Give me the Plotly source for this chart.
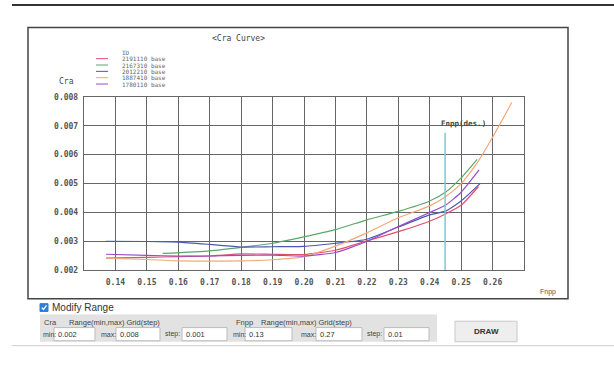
import plotly.graph_objects as go

W, H = 614, 377

# ---------------- data ----------------
series_names = ["2191110 base", "2167310 base", "2012210 base", "1887410 base", "1780110 base"]
series_colors = ["#e2506a", "#5aa86a", "#4a58b0", "#f2a878", "#9a4cc8"]

fnpp_2191110 = [0.137, 0.15, 0.16, 0.17, 0.18, 0.19, 0.20, 0.21, 0.22, 0.23, 0.24, 0.245, 0.25, 0.2555]
cra_2191110 = [0.00243, 0.00245, 0.00248, 0.0025, 0.00257, 0.00256, 0.00255, 0.0027, 0.00302, 0.00334, 0.0037, 0.00395, 0.00425, 0.0049]

fnpp_2167310 = [0.155, 0.17, 0.18, 0.19, 0.20, 0.21, 0.22, 0.23, 0.24, 0.245, 0.25, 0.2551]
cra_2167310 = [0.00259, 0.00268, 0.0028, 0.00294, 0.00316, 0.00341, 0.00375, 0.00404, 0.0044, 0.0047, 0.0052, 0.00584]

fnpp_2012210 = [0.137, 0.15, 0.16, 0.17, 0.18, 0.19, 0.20, 0.21, 0.22, 0.23, 0.24, 0.245, 0.25, 0.256]
cra_2012210 = [0.00301, 0.003, 0.00298, 0.0029, 0.00281, 0.00282, 0.00283, 0.00294, 0.00308, 0.0035, 0.00392, 0.00405, 0.0044, 0.0050]

fnpp_1887410 = [0.137, 0.15, 0.16, 0.17, 0.18, 0.19, 0.20, 0.21, 0.22, 0.23, 0.24, 0.245, 0.25, 0.255, 0.26, 0.2661]
cra_1887410 = [0.00243, 0.00238, 0.00233, 0.00232, 0.00233, 0.00237, 0.00248, 0.00284, 0.0033, 0.00382, 0.00423, 0.00455, 0.005, 0.0057, 0.0066, 0.0078]

fnpp_1780110 = [0.137, 0.15, 0.16, 0.17, 0.18, 0.19, 0.20, 0.21, 0.22, 0.23, 0.24, 0.245, 0.25, 0.2557]
cra_1780110 = [0.00256, 0.00252, 0.0025, 0.0025, 0.00252, 0.00253, 0.0025, 0.00262, 0.003, 0.00352, 0.004, 0.00425, 0.0047, 0.00547]

series_x = [fnpp_2191110, fnpp_2167310, fnpp_2012210, fnpp_1887410, fnpp_1780110]
series_y = [cra_2191110, cra_2167310, cra_2012210, cra_1887410, cra_1780110]

fnpp_design = 0.2449
design_label = "Fnpp(des.)"

x_tick_vals = [0.14, 0.15, 0.16, 0.17, 0.18, 0.19, 0.20, 0.21, 0.22, 0.23, 0.24, 0.25, 0.26]
x_tick_text = ["0.14", "0.15", "0.16", "0.17", "0.18", "0.19", "0.20", "0.21", "0.22", "0.23", "0.24", "0.25", "0.26"]
y_tick_vals = [0.002, 0.003, 0.004, 0.005, 0.006, 0.007, 0.008]
y_tick_text = ["0.002", "0.003", "0.004", "0.005", "0.006", "0.007", "0.008"]

x_range = [0.13, 0.27]
y_range = [0.002, 0.008]

form_values = {"cra_min": "0.002", "cra_max": "0.008", "cra_step": "0.001",
               "fnpp_min": "0.13", "fnpp_max": "0.27", "fnpp_step": "0.01"}

# ---------------- helpers ----------------
def px(x):
    return x / W

def py(y):
    return 1 - y / H

MONO = "DejaVu Sans Mono"
SANS = "Liberation Sans"

fig = go.Figure()

for name, color, xs, ys in zip(series_names, series_colors, series_x, series_y):
    fig.add_trace(go.Scatter(x=xs, y=ys, mode="lines", name=name,
                             line=dict(color=color, width=1.2, shape="spline", smoothing=0.5),
                             showlegend=False, hoverinfo="x+y+name"))

# design Fnpp line
fig.add_trace(go.Scatter(x=[fnpp_design, fnpp_design], y=[y_range[0], 0.00676], mode="lines",
                         line=dict(color="#7cc8d2", width=1.5), showlegend=False, hoverinfo="skip"))

shapes = []
annotations = []

# top dark rule and bottom light rule
shapes.append(dict(type="line", xref="paper", yref="paper", x0=px(12), x1=px(614), y0=py(1), y1=py(1),
                   line=dict(color="#333333", width=2)))
shapes.append(dict(type="line", xref="paper", yref="paper", x0=px(12), x1=px(614), y0=py(350), y1=py(350),
                   line=dict(color="#cccccc", width=1)))
# chart frame
shapes.append(dict(type="rect", xref="paper", yref="paper", x0=px(28), x1=px(568), y0=py(302), y1=py(24),
                   line=dict(color="#444444", width=1.5), layer="below"))

# title
annotations.append(dict(text="&lt;Cra Curve&gt;", x=px(238), y=py(35), xref="paper", yref="paper",
                        showarrow=False, font=dict(family=MONO, size=8, color="#444"), xanchor="center", yanchor="middle"))
# axis titles
annotations.append(dict(text="Cra", x=px(66), y=py(79), xref="paper", yref="paper", showarrow=False,
                        font=dict(family=MONO, size=8, color="#444"), xanchor="center", yanchor="middle"))
annotations.append(dict(text="Fnpp", x=px(548), y=py(295), xref="paper", yref="paper", showarrow=False,
                        font=dict(family=SANS, size=7, color="#555555"), xanchor="center", yanchor="middle"))
# design label
annotations.append(dict(text=design_label, x=0.2507, y=0.00706, xref="x", yref="y", showarrow=False,
                        font=dict(family=MONO, size=7.5, color="#444444", weight="bold"),
                        xanchor="center", yanchor="middle"))

# manual legend
annotations.append(dict(text="ID", x=px(120), y=py(49.5), xref="paper", yref="paper", showarrow=False,
                        font=dict(family=MONO, size=6, color="#666"), xanchor="left", yanchor="middle"))
for i, (name, color) in enumerate(zip(series_names, series_colors)):
    yy = 56 + i * 6.5
    shapes.append(dict(type="line", xref="paper", yref="paper", x0=px(96), x1=px(108), y0=py(yy), y1=py(yy),
                       line=dict(color=color, width=1)))
    annotations.append(dict(text=name, x=px(120), y=py(yy), xref="paper", yref="paper", showarrow=False,
                            font=dict(family=MONO, size=6, color="#666"), xanchor="left", yanchor="middle"))

# ---------------- control panel ----------------
# checkbox
shapes.append(dict(type="rect", xref="paper", yref="paper", x0=px(40), x1=px(48), y0=py(315), y1=py(307),
                   fillcolor="#2f7fd6", line=dict(color="#2f7fd6", width=1)))
shapes.append(dict(type="path", xref="paper", yref="paper",
                   path=f"M {px(41.8)} {py(311)} L {px(43.5)} {py(313)} L {px(46.5)} {py(308.8)}",
                   line=dict(color="white", width=1.3)))
annotations.append(dict(text="Modify Range", x=px(50), y=py(311), xref="paper", yref="paper", showarrow=False,
                        font=dict(family=SANS, size=10, color="#333"), xanchor="left", yanchor="middle"))
# gray panel
shapes.append(dict(type="rect", xref="paper", yref="paper", x0=px(40), x1=px(437), y0=py(346), y1=py(318),
                   fillcolor="#e2e2e2", line=dict(width=0), layer="below"))

row1 = 326.5
for txt, x0 in [("Cra", 42), ("Range(min,max) Grid(step)", 67), ("Fnpp", 234), ("Range(min,max) Grid(step)", 259)]:
    annotations.append(dict(text=txt, x=px(x0), y=py(row1), xref="paper", yref="paper", showarrow=False,
                            font=dict(family=SANS, size=7.5, color="#444"), xanchor="left", yanchor="middle"))

row2 = 338.5
fields = [("min:", 41, 54, 95, form_values["cra_min"]),
          ("max:", 99, 116, 160, form_values["cra_max"]),
          ("step:", 163, 182, 227, form_values["cra_step"]),
          ("min:", 231, 245, 292, form_values["fnpp_min"]),
          ("max:", 299, 316, 362, form_values["fnpp_max"]),
          ("step:", 365, 384, 429, form_values["fnpp_step"])]
for lab, lx, bx0, bx1, val in fields:
    annotations.append(dict(text=lab, x=px(lx), y=py(row2), xref="paper", yref="paper", showarrow=False,
                            font=dict(family=SANS, size=7, color="#444"), xanchor="left", yanchor="middle"))
    shapes.append(dict(type="rect", xref="paper", yref="paper", x0=px(bx0), x1=px(bx1), y0=py(345), y1=py(331.5),
                       fillcolor="white", line=dict(color="#bbbbbb", width=1)))
    annotations.append(dict(text=val, x=px(bx0 + 2), y=py(row2), xref="paper", yref="paper", showarrow=False,
                            font=dict(family=SANS, size=7.5, color="#333"), xanchor="left", yanchor="middle"))

# DRAW button
shapes.append(dict(type="rect", xref="paper", yref="paper", x0=px(455), x1=px(517), y0=py(346), y1=py(325),
                   fillcolor="#eeeeee", line=dict(color="#c8c8c8", width=1)))
annotations.append(dict(text="<b>DRAW</b>", x=px(486), y=py(335.5), xref="paper", yref="paper", showarrow=False,
                        font=dict(family=SANS, size=8, color="#333"), xanchor="center", yanchor="middle"))

grid_color = "#666666"
fig.update_layout(
    width=W, height=H,
    margin=dict(l=0, r=0, t=0, b=0),
    paper_bgcolor="white", plot_bgcolor="white",
    showlegend=False,
    xaxis=dict(domain=[px(84), px(524)], range=x_range, tickvals=x_tick_vals, ticktext=x_tick_text,
               showgrid=True, gridcolor=grid_color, gridwidth=1.4, zeroline=False,
               showline=True, linecolor=grid_color, linewidth=1.4, mirror=True, ticks="",
               ticklabelstandoff=4,
               tickfont=dict(family=MONO, size=8, color="#555", weight="bold"),
               fixedrange=True),
    yaxis=dict(domain=[py(273), py(95)], range=y_range, tickvals=y_tick_vals, ticktext=y_tick_text,
               showgrid=True, gridcolor=grid_color, gridwidth=1.4, zeroline=False,
               showline=True, linecolor=grid_color, linewidth=1.4, mirror=True, ticks="",
               ticklabelstandoff=3,
               tickfont=dict(family=MONO, size=8, color="#555", weight="bold"),
               fixedrange=True),
    shapes=shapes,
    annotations=annotations,
)

fig.write_html("out.html")
